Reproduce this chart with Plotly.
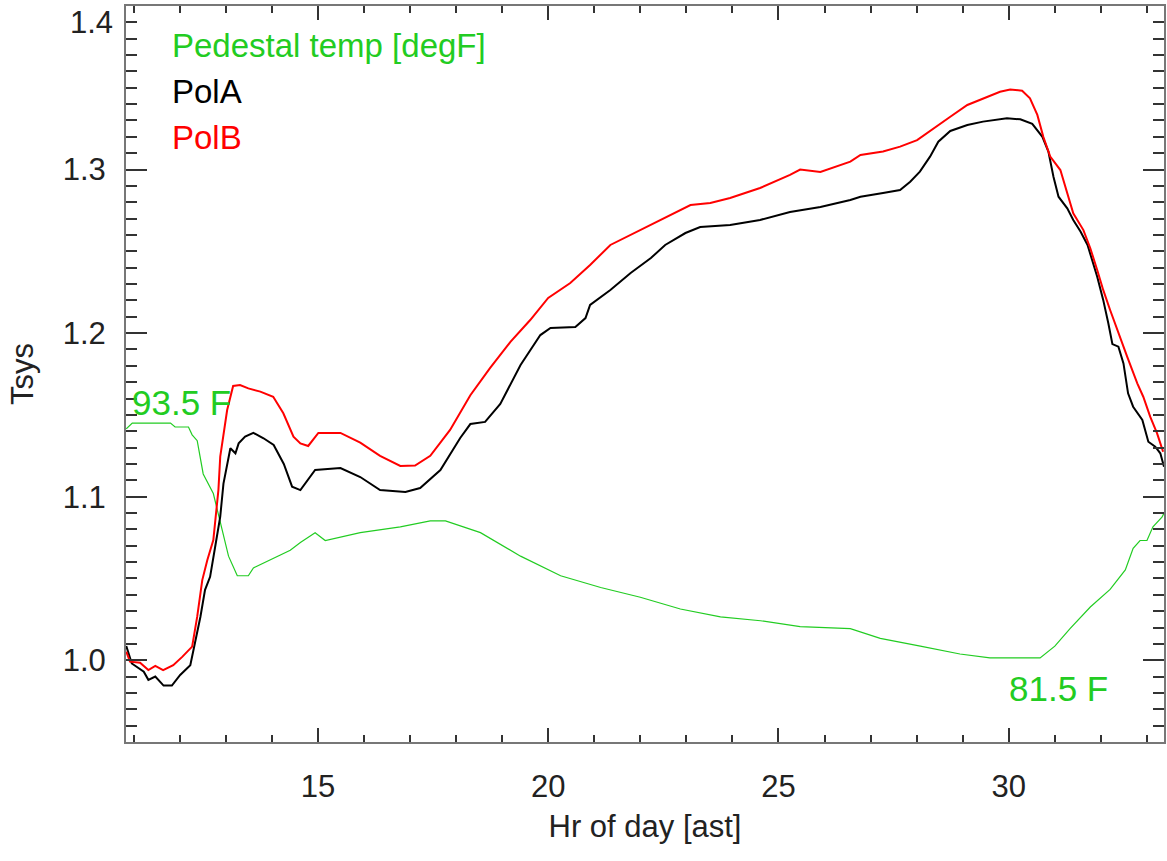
import plotly.graph_objects as go

# ---- data ----
polA_hr = [10.84, 10.96, 11.22, 11.32, 11.47, 11.65, 11.83, 12.01, 12.23, 12.30, 12.45, 12.55, 12.66, 12.77,
           12.88, 12.95, 13.03, 13.10, 13.21, 13.28, 13.42, 13.60, 13.82, 14.04, 14.26, 14.44, 14.62, 14.94,
           15.49, 15.92, 16.35, 16.90, 17.22, 17.66, 18.09, 18.31, 18.63, 18.96, 19.40, 19.83, 20.05, 20.59,
           20.81, 20.91, 21.35, 21.79, 22.23, 22.54, 22.98, 23.30, 23.95, 24.60, 25.25, 25.91, 26.56, 26.78,
           27.27, 27.64, 27.86, 28.07, 28.29, 28.47, 28.73, 29.10, 29.44, 29.96, 30.25, 30.51, 30.73, 30.86,
           30.97, 31.08, 31.27, 31.40, 31.56, 31.71, 31.92, 32.05, 32.16, 32.25, 32.38, 32.49, 32.59, 32.70,
           32.90, 33.03, 33.18, 33.29, 33.37]
polA_tsys = [1.0087, 0.998, 0.993, 0.988, 0.990, 0.9845, 0.9845, 0.991, 0.997, 1.0063, 1.0266, 1.043, 1.051, 1.0694,
             1.0878, 1.108, 1.1194, 1.1296, 1.1265, 1.1326, 1.1367, 1.139, 1.1357, 1.1316, 1.120, 1.1061, 1.104, 1.1163,
             1.1175, 1.112, 1.104, 1.1029, 1.1053, 1.1163, 1.1359, 1.1444, 1.1457, 1.1567, 1.1805, 1.1988, 1.2031, 1.2037,
             1.2092, 1.2172, 1.2264, 1.2368, 1.2459, 1.2539, 1.2612, 1.2649, 1.2661, 1.2692, 1.274, 1.2771, 1.2814, 1.2834,
             1.2857, 1.2875, 1.2926, 1.2987, 1.3079, 1.317, 1.3236, 1.3272, 1.3293, 1.3313, 1.3307, 1.3279, 1.320, 1.311,
             1.2956, 1.2834, 1.2763, 1.2692, 1.262, 1.2539, 1.2345, 1.2203, 1.2062, 1.1933, 1.1917, 1.1815, 1.1632, 1.155,
             1.1469, 1.1336, 1.1306, 1.1265, 1.1183]

polB_hr = [10.84, 10.92, 11.14, 11.32, 11.47, 11.64, 11.86, 12.06, 12.27, 12.38, 12.49, 12.60, 12.73, 12.84,
           12.88, 12.95, 13.03, 13.16, 13.31, 13.49, 13.75, 14.03, 14.25, 14.47, 14.62, 14.79, 15.01, 15.49,
           15.92, 16.35, 16.79, 17.11, 17.44, 17.87, 18.31, 18.74, 19.18, 19.61, 20.00, 20.48, 20.91, 21.35,
           21.79, 22.44, 23.09, 23.52, 23.95, 24.60, 25.25, 25.47, 25.91, 26.56, 26.78, 27.27, 27.64, 28.01,
           28.36, 28.73, 29.10, 29.44, 29.81, 30.03, 30.29, 30.46, 30.62, 30.75, 30.90, 31.12, 31.27, 31.40,
           31.62, 31.77, 31.92, 32.05, 32.20, 32.38, 32.57, 32.79, 32.92, 33.07, 33.22, 33.35]
polB_tsys = [1.0052, 0.9991, 0.9985, 0.994, 0.9965, 0.994, 0.997, 1.0022, 1.0083, 1.0266, 1.049, 1.0613, 1.0735, 1.104,
             1.1245, 1.1367, 1.153, 1.1677, 1.1683, 1.1662, 1.1642, 1.1611, 1.151, 1.1367, 1.1326, 1.131, 1.139, 1.139,
             1.133, 1.125, 1.1188, 1.119, 1.125, 1.1408, 1.162, 1.1787, 1.1946, 1.208, 1.2215, 1.2306, 1.2416, 1.2539,
             1.26, 1.2692, 1.2783, 1.2796, 1.2826, 1.2887, 1.2967, 1.30, 1.2985, 1.3048, 1.3089, 1.311, 1.314, 1.318,
             1.3252, 1.3323, 1.3395, 1.3436, 1.3476, 1.349, 1.3482, 1.3436, 1.3334, 1.320, 1.3079, 1.2997, 1.2855, 1.2733,
             1.263, 1.2519, 1.2386, 1.2264, 1.2141, 1.2, 1.1856, 1.1693, 1.1611, 1.1489, 1.1387, 1.1275]

ped_hr = [10.84, 10.97, 11.80, 11.90, 12.19, 12.27, 12.38, 12.51, 12.73, 12.88, 13.06, 13.25, 13.49, 13.60,
          13.97, 14.40, 14.62, 14.94, 15.16, 15.92, 16.79, 17.44, 17.77, 18.53, 19.40, 20.27, 21.14, 22.00,
          22.87, 23.74, 24.61, 25.47, 26.56, 27.21, 28.08, 28.94, 29.59, 30.68, 31.00, 31.33, 31.77, 32.20,
          32.53, 32.70, 32.85, 33.00, 33.13, 33.33, 33.37]
ped_degF = [93.2, 93.5, 93.5, 93.3, 93.3, 92.9, 92.6, 90.9, 89.9, 88.5, 86.7, 85.7, 85.7, 86.1,
            86.5, 87.0, 87.4, 87.9, 87.5, 87.9, 88.2, 88.5, 88.5, 87.9, 86.7, 85.7, 85.1, 84.6,
            84.0, 83.6, 83.4, 83.1, 83.0, 82.5, 82.1, 81.7, 81.5, 81.5, 82.1, 83.0, 84.1, 85.0,
            86.0, 87.1, 87.5, 87.5, 88.2, 88.7, 88.9]

legend_labels = ["Pedestal temp [degF]", "PolA", "PolB"]
temp_min_label = "81.5 F"
temp_max_label = "93.5 F"
x_major = [15, 20, 25, 30]
y_major = [1.0, 1.1, 1.2, 1.3]

# temperature drawn on the Tsys axis: 81.5 F -> ~1.0014, 93.5 F -> ~1.145
T_LO, T_HI = 81.5, 93.5
Y_LO, Y_HI = 1.0014, 1.145
ped_scaled = [Y_LO + (t - T_LO) / (T_HI - T_LO) * (Y_HI - Y_LO) for t in ped_degF]

GREEN = "rgb(34,204,34)"
FONT = "Liberation Sans, Arial, Helvetica, sans-serif"

fig = go.Figure()
fig.add_trace(go.Scatter(x=ped_hr, y=ped_scaled, mode="lines",
                         line=dict(color=GREEN, width=1.2), showlegend=False))
fig.add_trace(go.Scatter(x=polA_hr, y=polA_tsys, mode="lines",
                         line=dict(color="black", width=2), showlegend=False))
fig.add_trace(go.Scatter(x=polB_hr, y=polB_tsys, mode="lines",
                         line=dict(color="red", width=2), showlegend=False))

leg_colors = [GREEN, "black", "red"]
leg_y = [1.3757, 1.3477, 1.3197]
for txt, col, yy in zip(legend_labels, leg_colors, leg_y):
    fig.add_annotation(x=11.78, y=yy, text=txt, showarrow=False, xanchor="left", yanchor="middle",
                       font=dict(family=FONT, size=33, color=col))

fig.add_annotation(x=10.93, y=1.1573, text=temp_max_label, showarrow=False, xanchor="left",
                   yanchor="middle", font=dict(family=FONT, size=35, color=GREEN))
fig.add_annotation(x=29.96, y=0.983, text=temp_min_label, showarrow=False, xanchor="left",
                   yanchor="middle", font=dict(family=FONT, size=35, color=GREEN))
# top tick label (drawn slightly inside the frame, as in the reference)
fig.add_annotation(xref="paper", x=0, y=1.39, text="1.4", showarrow=False, xanchor="right",
                   yanchor="middle", xshift=-11, font=dict(family=FONT, size=31, color="#222"))

fig.update_layout(
    width=1167, height=861,
    margin=dict(l=126, r=3, t=6, b=119),
    paper_bgcolor="white", plot_bgcolor="white",
    font=dict(family=FONT, size=31, color="#222"),
    xaxis=dict(range=[10.834, 33.37], tickvals=x_major, ticks="inside", ticklen=14, tickwidth=2,
               tickcolor="#333", showline=True, linecolor="#777", linewidth=2, mirror="ticks",
               showgrid=False, zeroline=False, ticklabelstandoff=16, automargin=False,
               minor=dict(dtick=1, tick0=0, ticks="inside", ticklen=7, tickwidth=2, tickcolor="#333"),
               title=dict(text="Hr of day [ast]", standoff=12, font=dict(size=31))),
    yaxis=dict(range=[0.95, 1.40], tickvals=y_major, ticktext=["1.0", "1.1", "1.2", "1.3"],
               ticks="inside", ticklen=21, tickwidth=2, tickcolor="#333", showline=True, linecolor="#777",
               linewidth=2, mirror="ticks", showgrid=False, zeroline=False, ticklabelstandoff=12,
               automargin=False,
               minor=dict(dtick=0.01, tick0=0, ticks="inside", ticklen=11, tickwidth=2, tickcolor="#333"),
               title=dict(text="Tsys", standoff=20, font=dict(size=31))),
)

fig.write_html("out.html", config={"displayModeBar": False},
               post_script="document.body.style.margin='0';document.body.style.overflow='hidden';")
